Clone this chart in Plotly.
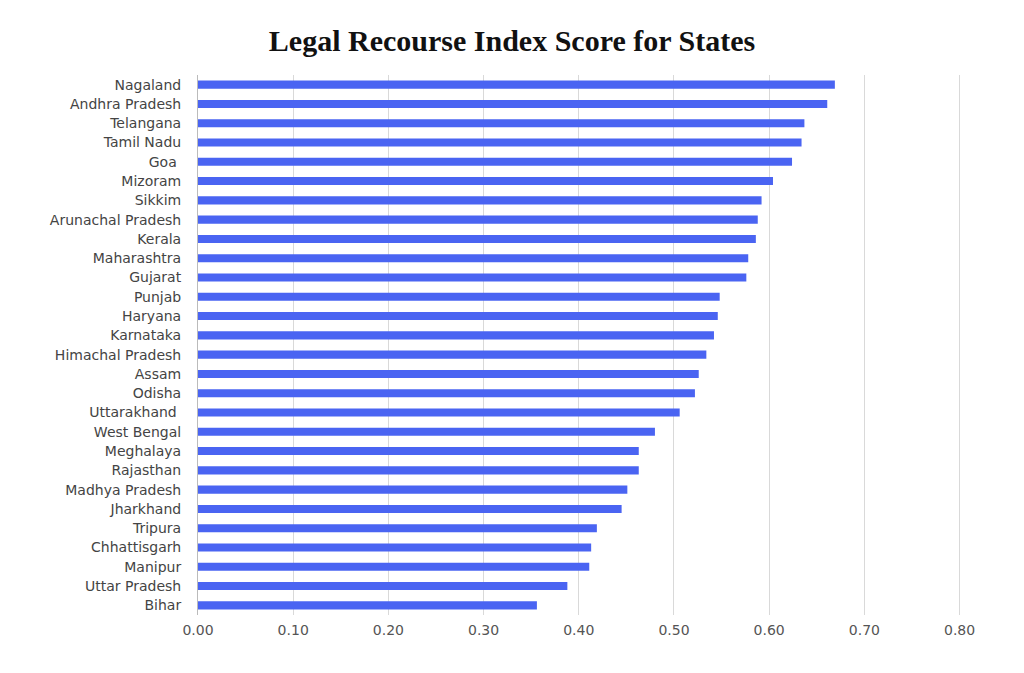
import plotly.graph_objects as go

states = ["Nagaland", "Andhra Pradesh", "Telangana", "Tamil Nadu", "Goa ", "Mizoram",
          "Sikkim", "Arunachal Pradesh", "Kerala", "Maharashtra", "Gujarat", "Punjab",
          "Haryana", "Karnataka", "Himachal Pradesh", "Assam", "Odisha", "Uttarakhand ",
          "West Bengal", "Meghalaya", "Rajasthan", "Madhya Pradesh", "Jharkhand",
          "Tripura", "Chhattisgarh", "Manipur", "Uttar Pradesh", "Bihar"]
scores = [0.669, 0.661, 0.637, 0.634, 0.624, 0.604,
          0.592, 0.588, 0.586, 0.578, 0.576, 0.548,
          0.546, 0.542, 0.534, 0.526, 0.522, 0.506,
          0.480, 0.463, 0.463, 0.451, 0.445,
          0.419, 0.413, 0.411, 0.388, 0.356]
tick_vals = [0.0, 0.1, 0.2, 0.3, 0.4, 0.5, 0.6, 0.7, 0.8]
tick_text = ["0.00", "0.10", "0.20", "0.30", "0.40", "0.50", "0.60", "0.70", "0.80"]

fig = go.Figure(go.Bar(
    x=scores, y=states, orientation="h",
    marker=dict(color="#4a64f2", line=dict(width=0)),
))

fig.update_layout(
    width=1008, height=657,
    paper_bgcolor="white", plot_bgcolor="white",
    margin=dict(l=190, r=55, t=67, b=50),
    title=dict(text="<b>Legal Recourse Index Score for States</b>",
               x=0.5, xanchor="center", y=1 - 32 / 657, yanchor="middle",
               font=dict(family="Liberation Serif, Times New Roman, serif", size=30, color="#111")),
    bargap=0.58,
    showlegend=False,
    xaxis=dict(range=[0, 0.8015], tickvals=tick_vals, ticktext=tick_text,
               showgrid=True, gridcolor="#d9d9d9", gridwidth=1, zeroline=False,
               showline=False, ticks="", ticklabelstandoff=5,
               tickfont=dict(family="DejaVu Sans, sans-serif", size=14, color="#555")),
    yaxis=dict(autorange="reversed", showgrid=False, zeroline=False,
               showline=True, linecolor="#bbbbbb", linewidth=1, ticks="",
               ticklabelstandoff=13,
               tickfont=dict(family="DejaVu Sans, sans-serif", size=14, color="#444")),
)

fig.write_html("out.html")
